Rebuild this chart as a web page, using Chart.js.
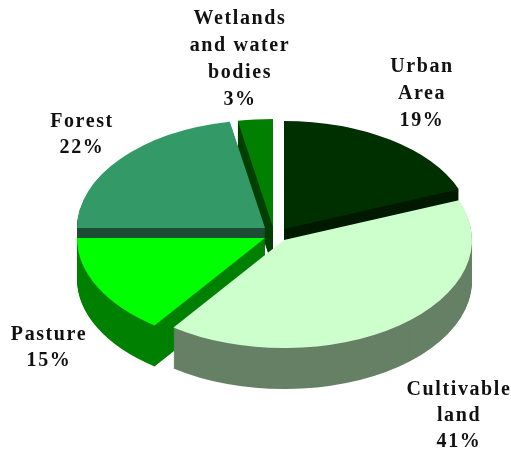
<!DOCTYPE html>
<html>
<head>
<meta charset="utf-8">
<style>
  html, body { margin: 0; padding: 0; background: #fff; }
  canvas { display: block; }
</style>
<script src="https://cdn.jsdelivr.net/npm/chart.js@4"></script>
</head>
<body>
<canvas id="landUseChart" width="511" height="451"></canvas>
<script>
const categories = ['Urban Area', 'Cultivable land', 'Pasture', 'Forest', 'Wetlands and water bodies'];
const shares = [19, 41, 15, 22, 3];

const labelLines = [['Urban', 'Area'], ['Cultivable', 'land'], ['Pasture'], ['Forest'], ['Wetlands', 'and water', 'bodies']];
const labelAnchors = [[422, 67], [459, 390], [49, 335], [82, 122], [240, 19]];
const labelSpacing = [27, 26, 26, 26, 27];

const topColors = ['#003000', '#ccffcc', '#00ff00', '#339966', '#007f00'];
const wallColors = ['#001a00', '#668066', '#008000', '#1a4d33', '#004000'];
// exploded slices, pixels from the pie centre
const sliceShift = [[10, -5], [10, 6], [-9, 4], [-9, -6], [-1, -7]];
// back slices first so the front ones overlap them
const drawOrder = [4, 0, 3, 2, 1];

const squash = 0.575;
const depth = 41;

function drawSlice(ctx, arc, i, lift, color) {
  const saved = arc.options;
  arc.options = Object.assign({}, saved, { backgroundColor: color, borderWidth: 0 });
  ctx.save();
  ctx.translate(arc.x + sliceShift[i][0], arc.y + sliceShift[i][1] + lift);
  ctx.scale(1, squash);
  ctx.translate(-arc.x, -arc.y);
  arc.draw(ctx);
  ctx.restore();
  arc.options = saved;
}

const pie3d = {
  id: 'pie3d',
  beforeDatasetsDraw(chart) {
    const ctx = chart.ctx;
    const arcs = chart.getDatasetMeta(0).data;
    drawOrder.forEach(i => {
      for (let k = depth; k > 0; k--) drawSlice(ctx, arcs[i], i, k, wallColors[i]);
      drawSlice(ctx, arcs[i], i, 0, topColors[i]);
    });
    return false;
  }
};

const sliceLabels = {
  id: 'sliceLabels',
  afterDraw(chart) {
    const ctx = chart.ctx;
    ctx.save();
    ctx.font = 'bold 20px "Liberation Serif"';
    ctx.letterSpacing = '1.6px';
    ctx.fillStyle = '#111';
    ctx.filter = 'blur(0.4px)';
    ctx.textAlign = 'center';
    ctx.textBaseline = 'middle';
    categories.forEach((name, i) => {
      const lines = labelLines[i].concat(shares[i] + '%');
      lines.forEach((line, n) => {
        ctx.fillText(line, labelAnchors[i][0], labelAnchors[i][1] + n * labelSpacing[i]);
      });
    });
    ctx.restore();
  }
};

new Chart(document.getElementById('landUseChart').getContext('2d'), {
  type: 'pie',
  data: {
    labels: categories,
    datasets: [{
      data: shares,
      backgroundColor: topColors,
      borderWidth: 0
    }]
  },
  options: {
    responsive: false,
    animation: false,
    radius: 188,
    layout: { padding: { left: 37, top: 17 } },
    plugins: {
      legend: { display: false },
      tooltip: { enabled: false }
    }
  },
  plugins: [pie3d, sliceLabels]
});
</script>
</body>
</html>
